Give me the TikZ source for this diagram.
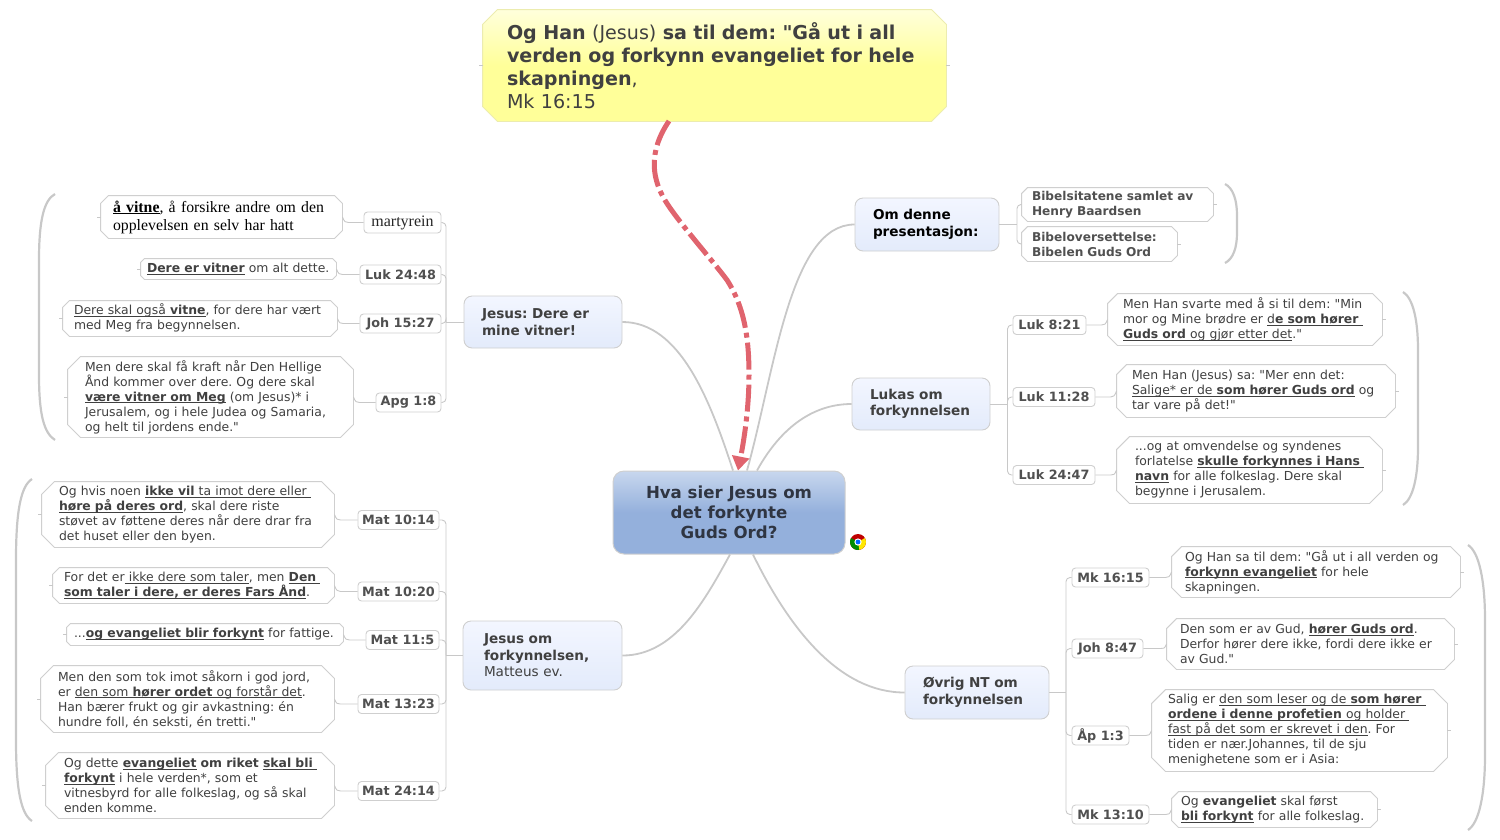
\documentclass[tikz,border=0pt]{standalone}
\usepackage{fontspec}
\usepackage{tikz}
\usepackage{xcolor}
\usetikzlibrary{arrows.meta,calc}
\setmainfont{DejaVu Sans}[Ligatures=TeXOff]
\newfontfamily\timesfam{Liberation Serif}[Ligatures=TeXOff]
\frenchspacing
\definecolor{cEdge}{HTML}{CFCFCF}
\definecolor{cLine}{HTML}{C8C8C8}
\definecolor{cInk}{HTML}{404040}
\definecolor{cRef}{HTML}{505050}
\definecolor{cHubInk}{HTML}{2F3542}
\definecolor{cRed}{HTML}{E0646E}
\definecolor{cHubTop}{HTML}{C8D7EE}
\definecolor{cHubBot}{HTML}{94B0DC}
\definecolor{cBraTop}{HTML}{F3F6FF}
\definecolor{cBraBot}{HTML}{E3EBFB}
\definecolor{cQuoTop}{HTML}{FFFFDC}
\definecolor{cQuoBot}{HTML}{FFFF99}
\newcommand{\ul}[1]{\underline{\smash{#1}}}
% a box with cut corners, the cut kept out of the text box
\pgfkeys{/pgf/bevel size/.initial=6pt}
\newdimen\bvXa \newdimen\bvYa \newdimen\bvXb \newdimen\bvYb \newdimen\bvC
\makeatletter
\pgfdeclareshape{bevelbox}{
  \inheritsavedanchors[from=rectangle]
  \saveddimen\bevelc{\pgfmathsetlength\pgf@x{\pgfkeysvalueof{/pgf/bevel size}}}
  \inheritanchorborder[from=rectangle]
  \inheritanchor[from=rectangle]{center}
  \inheritanchor[from=rectangle]{north}
  \inheritanchor[from=rectangle]{south}
  \inheritanchor[from=rectangle]{east}
  \inheritanchor[from=rectangle]{west}
  \backgroundpath{
    \southwest\bvXa=\pgf@x\bvYa=\pgf@y
    \northeast\bvXb=\pgf@x\bvYb=\pgf@y
    \bvC=\bevelc
    \pgfpathmoveto{\pgfpoint{\bvXa+\bvC}{\bvYa}}
    \pgfpathlineto{\pgfpoint{\bvXb-\bvC}{\bvYa}}
    \pgfpathlineto{\pgfpoint{\bvXb}{\bvYa+\bvC}}
    \pgfpathlineto{\pgfpoint{\bvXb}{\bvYb-\bvC}}
    \pgfpathlineto{\pgfpoint{\bvXb-\bvC}{\bvYb}}
    \pgfpathlineto{\pgfpoint{\bvXa+\bvC}{\bvYb}}
    \pgfpathlineto{\pgfpoint{\bvXa}{\bvYb-\bvC}}
    \pgfpathlineto{\pgfpoint{\bvXa}{\bvYa+\bvC}}
    \pgfpathclose
  }
}
\makeatother
\tikzset{
  >=Stealth,
  note/.style  ={bevelbox,draw=cEdge,line width=.9pt,fill=white,text=cInk,
                 align=left,inner ysep=0pt,font=\fontsize{12.4}{15}\selectfont},
  % text width, left pad, height, cut
  nsize/.style n args={4}{text width=#1pt,inner xsep=#2pt,minimum height=#3pt,
                 bevel size=#4pt},
  grey/.style  ={note,text=cRef,font=\fontsize{12.15}{15}\selectfont\bfseries},
  quote/.style ={note,draw=cQuoBot!60!cEdge,top color=cQuoTop,bottom color=cQuoBot,
                 middle color=cQuoBot,font=\fontsize{19.1}{23}\selectfont},
  refb/.style  ={rounded corners=3.5pt,draw=cEdge,line width=.9pt,fill=white,text=cRef,
                 inner sep=0pt,minimum height=19pt,font=\fontsize{12.8}{15}\selectfont\bfseries},
  branch/.style={rounded corners=8pt,draw=cEdge,line width=.9pt,top color=cBraTop,bottom color=cBraBot,
                 text=cInk,align=left,inner ysep=0pt,font=\fontsize{13.6}{16.5}\selectfont\bfseries},
  hub/.style   ={rounded corners=11pt,draw=cEdge,line width=1pt,top color=cHubTop,bottom color=cHubBot,
                 middle color=cHubBot,text=cHubInk,align=center,inner sep=0pt,
                 font=\fontsize{16.6}{20}\selectfont\bfseries},
  ln/.style    ={cLine,line width=.9pt},
  main/.style  ={cLine,line width=1.8pt},
  brk/.style   ={cLine,line width=2.2pt},
  redarr/.style={-{Triangle[length=14pt,width=17pt]},cRed,line width=5pt,
                 dash pattern=on 27pt off 5pt on 5pt off 5pt},
}
\begin{document}
\begin{tikzpicture}[x=1pt,y=-1pt]
\useasboundingbox (0,0) rectangle (1500,839);
% centre and the quote on top
\node[hub,minimum width=232pt,minimum height=83pt] (hva) at (729,512.5) {Hva sier Jesus om\\det forkynte\\Guds Ord?};
\node[quote,nsize={415}{24}{111}{15}] (quo) at (714.5,65.5)
  {\textbf{Og Han} (Jesus) \textbf{sa til dem: "Gå ut i all}\\\textbf{verden og forkynn evangeliet for hele}\\\textbf{skapningen},\\Mk 16:15};
% main branches
\node[branch,text width=122pt,inner xsep=18pt,minimum height=52pt] (vitner) at (543,322) {Jesus: Dere er\\mine vitner!};
\node[branch,text width=117pt,inner xsep=21pt,minimum height=69pt] (matt) at (542.5,655.5) {Jesus om\\forkynnelsen,\\\mdseries Matteus ev.};
\node[branch,text=black,text width=108pt,inner xsep=18pt,minimum height=53pt] (om) at (927,224.5) {Om denne\\presentasjon:};
\node[branch,text width=102pt,inner xsep=18pt,minimum height=52pt] (lukas) at (921,404) {Lukas om\\forkynnelsen};
\node[branch,text width=108pt,inner xsep=18pt,minimum height=53pt] (ovrig) at (977,692.5) {Øvrig NT om\\forkynnelsen};
% witnesses, references
\node[refb,minimum width=77pt,minimum height=21pt,font=\timesfam\fontsize{16}{18}\selectfont,text=black!85] (mar) at (402.5,222.5) {martyrein};
\node[refb,minimum width=81pt] (luk48) at (400.5,274.5) {Luk 24:48};
\node[refb,minimum width=81pt] (joh27) at (400.5,323.5) {Joh 15:27};
\node[refb,minimum width=65pt] (apg) at (408.5,402.5) {Apg 1:8};
% witnesses, verses
\node[note,nsize={217}{12}{42}{8},text=black,font=\timesfam\fontsize{15.8}{18}\selectfont] (nmar) at (221.5,217)
  {\ul{\textbf{å vitne}}, å forsikre andre om den\\opplevelsen en selv har hatt};
\node[note,nsize={183}{6}{20}{4}] (nluk48) at (238.5,269) {\ul{\textbf{Dere er vitner}} om alt dette.};
\node[note,nsize={252}{11}{35}{7}] (njoh27) at (200,318.5)
  {\ul{Dere skal også \textbf{vitne}}, for dere har vært\\med Meg fra begynnelsen.};
\node[note,nsize={251}{17}{80}{13}] (napg) at (210.5,397)
  {Men dere skal få kraft når Den Hellige\\Ånd kommer over dere. Og dere skal\\\ul{\textbf{være vitner om Meg}} (om Jesus)* i\\Jerusalem, og i hele Judea og Samaria,\\og helt til jordens ende."};
% Matteus, references
\node[refb,minimum width=81pt] (mat14) at (398.5,520) {Mat 10:14};
\node[refb,minimum width=81pt] (mat20) at (398.5,591.5) {Mat 10:20};
\node[refb,minimum width=73pt] (mat5) at (402.5,640) {Mat 11:5};
\node[refb,minimum width=81pt] (mat23) at (398.5,704) {Mat 13:23};
\node[refb,minimum width=81pt] (mat24) at (398.5,791) {Mat 24:14};
% Matteus, verses
\node[note,nsize={258}{17}{65}{13}] (nmat14) at (188,514.5)
  {Og hvis noen \ul{\textbf{ikke vil} ta imot dere eller\ }\\\ul{\textbf{høre på deres ord}}, skal dere riste\\støvet av føttene deres når dere drar fra\\det huset eller den byen.};
\node[note,nsize={259}{11}{35}{7}] (nmat20) at (193.5,585.5)
  {For det er\ul{\ ikke dere som taler}, men~\ul{\textbf{Den\ }}\\\ul{\textbf{som taler i dere, er deres Fars Ånd}}.};
\node[note,nsize={262}{7}{21}{4}] (nmat5) at (205,634.5) {...\ul{\textbf{og evangeliet blir forkynt}} for fattige.};
\node[note,nsize={259}{17}{66}{13}] (nmat23) at (187.5,699)
  {Men den som tok imot såkorn i god jord,\\er \ul{den som \textbf{hører ordet} og forstår det}.\\Han bærer frukt og gir avkastning: én\\hundre foll, én seksti, én tretti."};
\node[note,nsize={252}{18}{65}{13}] (nmat24) at (190,785.5)
  {Og~dette~\ul{\textbf{evangeliet}}~\textbf{om~riket}~\ul{\textbf{skal bli\ }}\\\ul{\textbf{forkynt}} i hele verden*, som et\\vitnesbyrd for alle folkeslag, og så skal\\enden komme.};
% this presentation
\node[grey,nsize={171}{10}{33}{6}] (bib) at (1117.5,204.5) {Bibelsitatene samlet av\\Henry Baardsen};
\node[grey,nsize={135}{10}{34}{6}] (ove) at (1099.5,244) {Bibeloversettelse:\\Bibelen Guds Ord};
% Lukas
\node[refb,minimum width=73pt] (luk21) at (1049.5,325) {Luk 8:21};
\node[refb,minimum width=82pt] (luk28) at (1054,397) {Luk 11:28};
\node[refb,minimum width=82pt] (luk47) at (1054,475) {Luk 24:47};
\node[note,nsize={244}{15}{51}{10}] (nluk21) at (1245,319.5)
  {Men Han svarte med å si til dem: "Min\\mor og Mine brødre er \ul{d\textbf{e som hører\ }}\\\ul{\textbf{Guds ord} og gjør etter det}."};
\node[note,nsize={248}{15}{52}{10}] (nluk28) at (1256,391)
  {Men Han (Jesus) sa: "Mer enn det:\\\ul{Salige* er de \textbf{som hører Guds ord}} og\\tar vare på det!"};
\node[note,nsize={229}{18}{66}{13}] (nluk47) at (1249.5,470)
  {...og at omvendelse og syndenes\\forlatelse~\ul{\textbf{skulle forkynnes i Hans\ }}\\\ul{\textbf{navn}} for alle folkeslag. Dere skal\\begynne i Jerusalem.};
% rest of NT
\node[refb,minimum width=77pt] (mk15) at (1110.5,577.5) {Mk 16:15};
\node[refb,minimum width=71pt] (joh47) at (1107.5,648.5) {Joh 8:47};
\node[refb,minimum width=57pt] (ap) at (1100.5,735.5) {Åp 1:3};
\node[refb,minimum width=77pt] (mk10) at (1110.5,814.5) {Mk 13:10};
\node[note,nsize={262}{13}{50}{10}] (nmk15) at (1316,572)
  {Og Han sa til dem: "Gå ut i all verden og\\\ul{\textbf{forkynn evangeliet}} for hele\\skapningen.};
\node[note,nsize={261}{13}{50}{10}] (njoh47) at (1310.5,644)
  {Den som er av Gud, \ul{\textbf{hører Guds ord}}.\\Derfor hører dere ikke, fordi dere ikke er\\av Gud."};
\node[note,nsize={263}{16}{81}{14}] (nap) at (1299.5,730.5)
  {Salig er \ul{den som leser og de \textbf{som hører\ }}\\\ul{\textbf{ordene i denne profetien} og holder\ }\\\ul{fast på det som er skrevet i den}. For\\tiden er nær.Johannes, til de sju\\menighetene som er i Asia:};
\node[note,nsize={187}{9}{35}{7}] (nmk10) at (1274.5,809.5)
  {Og \textbf{evangeliet} skal først\\\ul{\textbf{bli forkynt}} for alle folkeslag.};
% buses on the left
\coordinate (busV) at (446,322);
\coordinate (busM) at (446,655.5);
\draw[ln] (vitner.west) -- (busV);
\draw[ln] (matt.west) -- (busM);
\foreach \t in {mar,luk48,joh27,apg}{\draw[ln,rounded corners=4pt] (busV) |- (\t.east);}
\foreach \t in {mat14,mat20,mat5,mat23,mat24}{\draw[ln,rounded corners=4pt] (busM) |- (\t.east);}
% buses on the right
\coordinate (busO) at (1017,224.5);
\coordinate (busL) at (1007.5,404);
\coordinate (busN) at (1066,692.5);
\draw[ln] (om.east) -- (busO);
\draw[ln] (lukas.east) -- (busL);
\draw[ln] (ovrig.east) -- (busN);
\foreach \t in {bib,ove}{\draw[ln,rounded corners=4pt] (busO) |- (\t.west);}
\foreach \t in {luk21,luk28,luk47}{\draw[ln,rounded corners=4pt] (busL) |- (\t.west);}
\foreach \t in {mk15,joh47,ap,mk10}{\draw[ln,rounded corners=4pt] (busN) |- (\t.west);}
% reference to verse
\foreach \a/\b in {mar/nmar,luk48/nluk48,joh27/njoh27,apg/napg,mat14/nmat14,mat20/nmat20,mat5/nmat5,mat23/nmat23,mat24/nmat24}{
  \draw[ln] (\b.east) .. controls +(2,5) and +(-3,0) .. ($(\b.east |- \a.west)+(6,0)$) -- (\a.west);
  \draw[ln] (\b.west) -- ++(-4,0);
}
\foreach \a/\b in {luk21/nluk21,luk28/nluk28,luk47/nluk47,mk15/nmk15,joh47/njoh47,ap/nap,mk10/nmk10}{
  \draw[ln] (\b.west) .. controls +(-2,5) and +(3,0) .. ($(\b.west |- \a.east)+(-6,0)$) -- (\a.east);
  \draw[ln] (\b.east) -- ++(4,0);
}
\foreach \b in {bib,ove,quo}{\draw[ln] (\b.east) -- ++(4,0);}
\draw[ln] (quo.west) -- ++(-4,0);
% main curves
\draw[main] (vitner.east) .. controls (680,322) and (710,400) .. ($(hva.north)+(4,0)$);
\draw[main] (om.west) .. controls (790,224.5) and (775,370) .. ($(hva.north)+(18,0)$);
\draw[main] (lukas.west) .. controls (820,404) and (785,420) .. ($(hva.north)+(28,0)$);
\draw[main] (matt.east) .. controls (675,655.5) and (705,600) .. ($(hva.south)+(1,0)$);
\draw[main] (ovrig.west) .. controls (840,692.5) and (790,630) .. ($(hva.south)+(24,0)$);
% brackets
\draw[brk] (55,194) .. controls (44,200) and (39,220) .. (39,260) -- (39,375) .. controls (39,415) and (44,433) .. (55,440);
\draw[brk] (32,479) .. controls (21,486) and (16,510) .. (16,560) -- (16,740) .. controls (16,790) and (21,814) .. (32,821);
\draw[brk] (1225,184) .. controls (1233,188) and (1237,200) .. (1237,215) -- (1237,233) .. controls (1237,248) and (1233,259) .. (1225,263);
\draw[brk] (1403,292) .. controls (1413,298) and (1418,320) .. (1418,350) -- (1418,447) .. controls (1418,477) and (1413,499) .. (1403,505);
\draw[brk] (1468,545) .. controls (1479,552) and (1485,580) .. (1485,620) -- (1485,755) .. controls (1485,795) and (1479,823) .. (1468,830);
% the red arrow
\coordinate (quoOut) at (669,121);
\draw[redarr] (quoOut) .. controls (648,152) and (651,180) .. (668,205)
  .. controls (682,226) and (712,260) .. (727,280)
  .. controls (745,308) and (749,340) .. (749,375)
  .. controls (749,405) and (745,435) .. ($(hva.north)+(9,0)$);
% browser icon
\begin{scope}[shift={(858,542)},y=1pt]
  \fill[red!75!black] (0,0) circle (8);
  \fill[green!55!black] (0,0) -- (150:8) arc (150:280:8) -- cycle;
  \fill[yellow!90!orange] (0,0) -- (280:8) arc (280:390:8) -- cycle;
  \fill[white] (0,0) circle (3.6);
  \fill[blue!60!cyan] (0,0) circle (2.4);
\end{scope}
\end{tikzpicture}
\end{document}
